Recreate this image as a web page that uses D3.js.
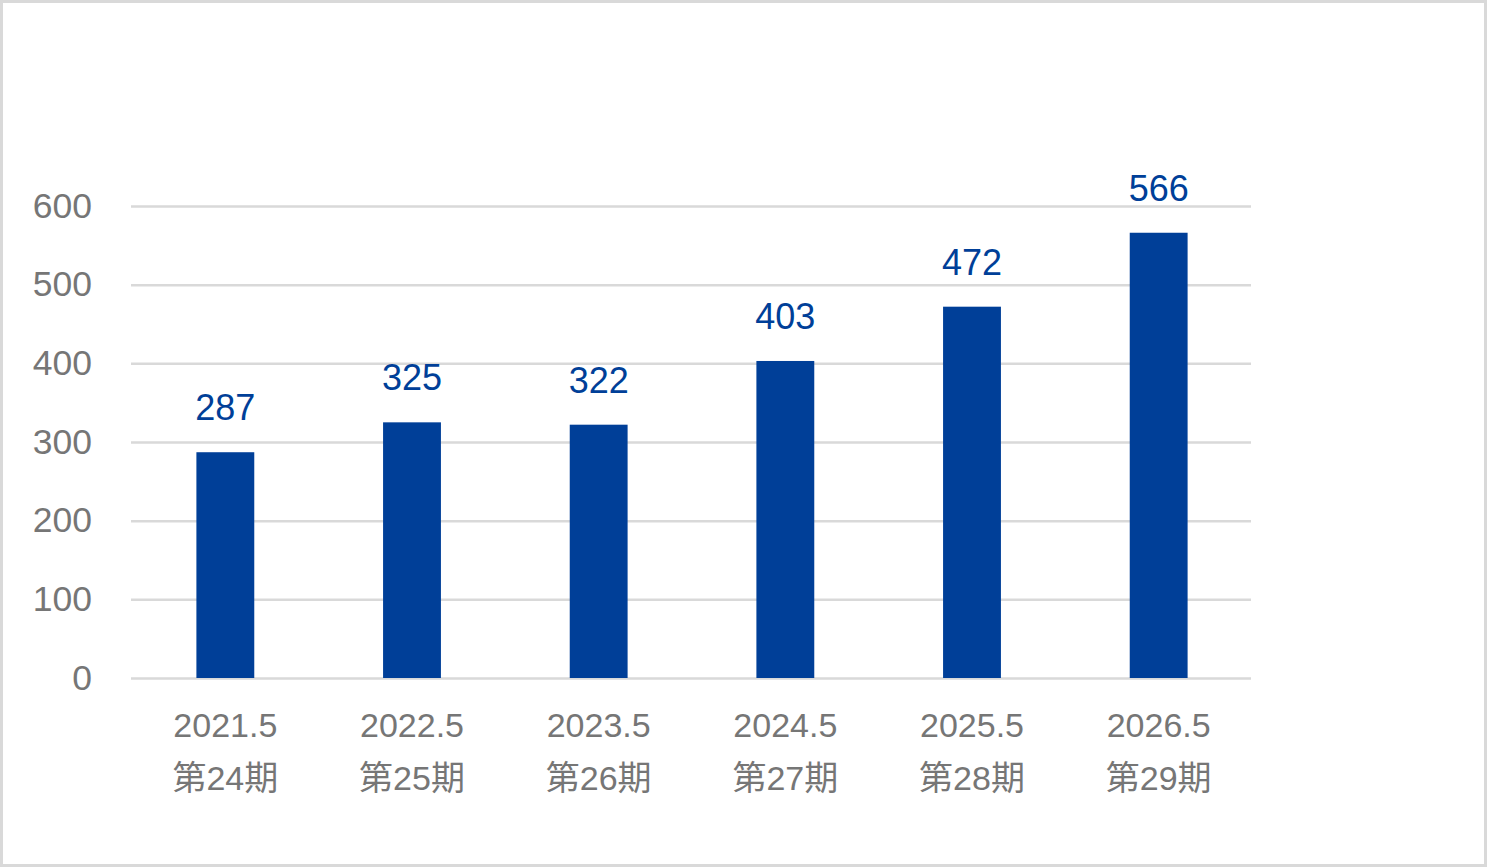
<!DOCTYPE html>
<html>
<head>
<meta charset="utf-8">
<script src="https://cdn.jsdelivr.net/npm/d3@7"></script>
<style>
  body { margin: 0; background: #ffffff; }
  svg { display: block; }
</style>
</head>
<body>
<svg></svg>
<script>
const years = ['2021.5', '2022.5', '2023.5', '2024.5', '2025.5', '2026.5'];
const periods = ['第24期', '第25期', '第26期', '第27期', '第28期', '第29期'];
const values = [287, 325, 322, 403, 472, 566];
const yTicks = [0, 100, 200, 300, 400, 500, 600];

const width = 1487, height = 867;
const font = '"Liberation Sans", Arial, "Noto Sans CJK JP", sans-serif';
const barColor = '#003f98';
const textGray = '#767676';
const gridColor = '#d9d9d9';

let svg = d3.select('svg')
  .attr('width', width)
  .attr('height', height);

// frame round the chart
svg.append('rect')
  .attr('x', 1.5)
  .attr('y', 1.5)
  .attr('width', width - 3)
  .attr('height', height - 3)
  .attr('fill', '#ffffff')
  .attr('stroke', gridColor)
  .attr('stroke-width', 3);

let x = d3.scaleBand()
  .domain(years)
  .range([132, 1252])
  .paddingInner(0.69)
  .paddingOuter(0.345);

let y = d3.scaleLinear()
  .domain([0, 600])
  .range([678, 206]);

// gridlines + y labels
let yAxis = svg.append('g')
  .attr('transform', 'translate(131,0)')
  .call(d3.axisLeft(y).tickValues(yTicks).tickSize(-1120).tickPadding(39));

yAxis.select('.domain').remove();
yAxis.selectAll('.tick line')
  .attr('stroke', gridColor)
  .attr('stroke-width', 2.5);
yAxis.selectAll('.tick text')
  .attr('dy', null)
  .attr('y', 11)
  .style('font-family', font)
  .style('font-size', '35.5px')
  .attr('fill', textGray);

// bars
svg.append('g')
  .selectAll('rect')
  .data(values)
  .join('rect')
  .attr('x', (d, i) => x(years[i]))
  .attr('y', d => y(d))
  .attr('width', x.bandwidth())
  .attr('height', d => y(0) - y(d))
  .attr('fill', barColor);

// value labels
svg.append('g')
  .selectAll('text')
  .data(values)
  .join('text')
  .attr('x', (d, i) => x(years[i]) + x.bandwidth() / 2)
  .attr('y', d => y(d) - 32)
  .attr('text-anchor', 'middle')
  .style('font-family', font)
  .style('font-size', '36px')
  .attr('fill', barColor)
  .text(d => d);

// category labels, two lines
let cats = svg.append('g')
  .selectAll('text')
  .data(years)
  .join('text')
  .attr('text-anchor', 'middle')
  .style('font-family', font)
  .style('font-size', '34px')
  .attr('fill', textGray);

cats.append('tspan')
  .attr('x', d => x(d) + x.bandwidth() / 2)
  .attr('y', 737)
  .text(d => d);

cats.append('tspan')
  .attr('x', d => x(d) + x.bandwidth() / 2)
  .attr('y', 790)
  .text((d, i) => periods[i]);
</script>
</body>
</html>
